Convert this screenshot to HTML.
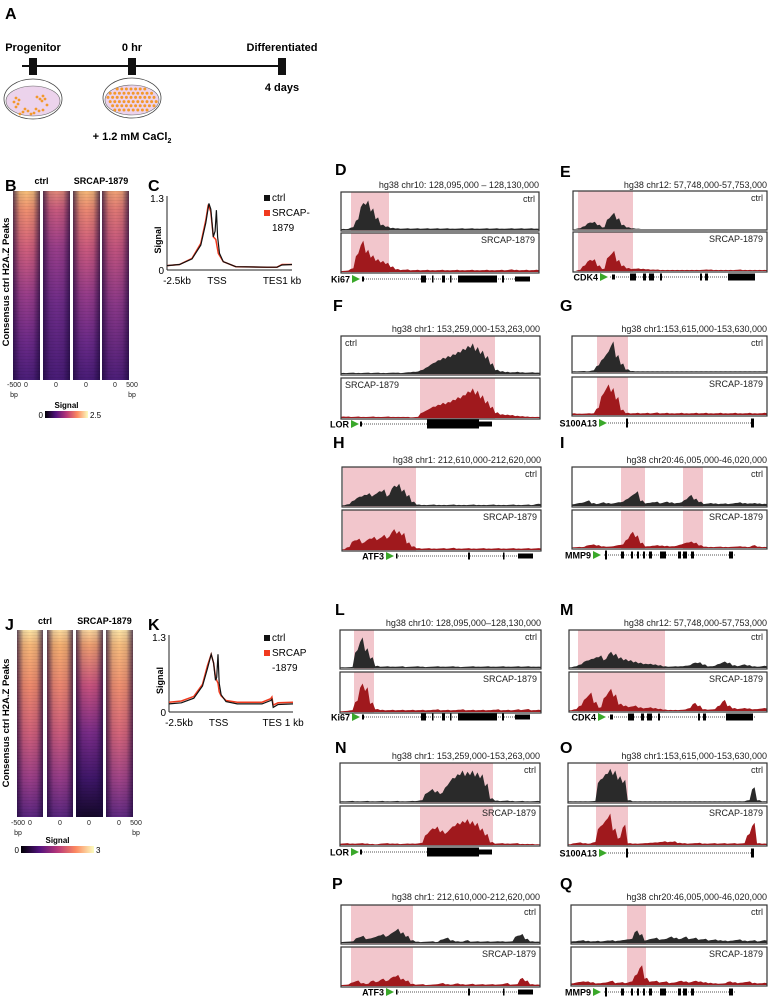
<!DOCTYPE html>
<html><head><meta charset="utf-8">
<style>
html,body{margin:0;padding:0;background:#fff;}
svg{display:block;font-family:"Liberation Sans",Arial,sans-serif;}
</style></head>
<body>
<svg id="fig" width="770" height="999" viewBox="0 0 770 999" xmlns="http://www.w3.org/2000/svg">
<defs id="defs"></defs>
</svg>
<script>
// ---------- Line chart data (C and K) ----------
const profileXC = [0,10,20,27,31,33.5,35,37,38.5,39.5,40.5,42,45,55,80,88,92,100];
const ctrlC     = [0.08,0.1,0.2,0.45,0.85,1.2,1.1,0.6,0.7,1.08,0.6,0.3,0.15,0.06,0.05,0.05,0.09,0.1];
const profileXC2= [0,10,20,27,31,33,35,37,39,41,45,55,80,88,92,100];
const srcapC    = [0.08,0.1,0.21,0.48,0.9,1.18,1.05,0.6,0.55,0.3,0.15,0.06,0.05,0.05,0.1,0.1];
const profileXK = [0,10,20,27,31,34,36,37.5,38.5,39.5,40.5,42,46,55,75,82,83,84,88,100];
const ctrlK     = [0.14,0.16,0.24,0.45,0.75,1.0,0.85,0.55,0.6,1.0,0.5,0.3,0.18,0.14,0.14,0.2,0.22,0.08,0.13,0.14];
const srcapK    = [0.17,0.19,0.27,0.48,0.8,1.0,0.85,0.6,0.55,0.5,0.35,0.28,0.2,0.17,0.17,0.23,0.26,0.12,0.16,0.17];
const yTicksProfile = [0,1.3];
const xTickLabelsC = ["-2.5kb","TSS","TES1 kb"];
const xTickLabelsK = ["-2.5kb","TSS","TES 1 kb"];

// ---------- Track coverage data (40 bins each) ----------
const D_ctrl=[0.03,0.03,0.08,0.3,0.75,0.82,0.6,0.35,0.15,0.1,0.06,0.05,0.04,0.05,0.04,0.05,0.04,0.05,0.04,0.05,0.04,0.05,0.04,0.04,0.05,0.04,0.05,0.04,0.04,0.05,0.04,0.05,0.04,0.04,0.05,0.04,0.05,0.04,0.05,0.04];
const D_src =[0.03,0.04,0.1,0.5,0.85,0.6,0.45,0.35,0.3,0.25,0.15,0.08,0.06,0.07,0.05,0.06,0.05,0.06,0.05,0.05,0.06,0.05,0.05,0.06,0.05,0.05,0.06,0.05,0.05,0.06,0.05,0.05,0.06,0.05,0.07,0.06,0.05,0.06,0.05,0.06];
const E_ctrl=[0,0.02,0.08,0.18,0.2,0.12,0.05,0.3,0.45,0.3,0.12,0.05,0.02,0.01,0,0,0,0,0,0,0,0,0,0,0,0,0,0,0,0,0,0,0,0,0,0,0,0,0,0];
const E_src =[0,0.03,0.15,0.3,0.32,0.15,0.06,0.4,0.55,0.3,0.15,0.08,0.06,0.07,0.06,0.05,0.04,0.04,0.03,0.03,0.03,0.03,0.03,0.03,0.03,0.03,0.03,0.04,0.04,0.03,0.03,0.03,0.03,0.03,0.04,0.03,0.03,0.03,0.03,0.03];
const F_ctrl=[0.03,0.03,0.04,0.03,0.03,0.04,0.03,0.04,0.03,0.03,0.04,0.04,0.03,0.05,0.06,0.07,0.12,0.2,0.3,0.38,0.45,0.5,0.55,0.62,0.7,0.78,0.85,0.75,0.65,0.5,0.3,0.12,0.08,0.06,0.05,0.06,0.05,0.04,0.05,0.04];
const F_src =[0.04,0.04,0.03,0.04,0.03,0.03,0.04,0.03,0.03,0.04,0.03,0.03,0.03,0.03,0.02,0.03,0.15,0.22,0.3,0.35,0.4,0.42,0.48,0.55,0.6,0.7,0.78,0.72,0.6,0.45,0.3,0.15,0.1,0.09,0.08,0.06,0.05,0.04,0.03,0.03];
const G_ctrl=[0.02,0.02,0.03,0.02,0.05,0.2,0.4,0.6,0.9,0.5,0.25,0.08,0.03,0.02,0.02,0.02,0.02,0.02,0.02,0.02,0.02,0.02,0.02,0.02,0.02,0.02,0.02,0.02,0.02,0.02,0.02,0.02,0.02,0.02,0.02,0.02,0.02,0.02,0.02,0.02];
const G_src =[0.05,0.04,0.04,0.05,0.05,0.2,0.6,0.85,0.75,0.5,0.15,0.06,0.05,0.06,0.05,0.06,0.05,0.07,0.05,0.06,0.05,0.05,0.06,0.05,0.05,0.06,0.05,0.06,0.05,0.05,0.06,0.05,0.05,0.06,0.05,0.05,0.06,0.05,0.05,0.06];
const H_ctrl=[0.02,0.05,0.15,0.25,0.3,0.35,0.3,0.4,0.45,0.3,0.55,0.6,0.45,0.3,0.12,0.04,0.03,0.03,0.04,0.03,0.03,0.03,0.04,0.03,0.03,0.03,0.04,0.03,0.03,0.03,0.04,0.03,0.03,0.03,0.04,0.03,0.03,0.04,0.03,0.06];
const H_src =[0.02,0.08,0.25,0.3,0.2,0.3,0.35,0.3,0.4,0.35,0.55,0.5,0.45,0.2,0.1,0.05,0.04,0.05,0.04,0.04,0.05,0.04,0.06,0.04,0.04,0.05,0.04,0.04,0.05,0.04,0.04,0.05,0.04,0.04,0.05,0.04,0.04,0.05,0.04,0.05];
const I_ctrl=[0.05,0.08,0.1,0.15,0.08,0.06,0.1,0.08,0.07,0.1,0.12,0.2,0.3,0.4,0.15,0.08,0.1,0.12,0.08,0.12,0.1,0.08,0.1,0.18,0.3,0.2,0.12,0.06,0.08,0.07,0.06,0.07,0.06,0.08,0.1,0.08,0.07,0.08,0.07,0.06];
const I_src =[0.02,0.03,0.03,0.08,0.1,0.08,0.05,0.04,0.05,0.08,0.1,0.25,0.45,0.35,0.15,0.05,0.06,0.08,0.07,0.06,0.05,0.06,0.1,0.15,0.18,0.15,0.08,0.04,0.03,0.03,0.04,0.03,0.03,0.04,0.05,0.04,0.03,0.08,0.04,0.03];
const L_ctrl=[0.02,0.02,0.03,0.5,0.85,0.55,0.3,0.06,0.04,0.05,0.04,0.04,0.05,0.03,0.04,0.05,0.04,0.03,0.04,0.05,0.04,0.04,0.05,0.04,0.03,0.04,0.05,0.04,0.04,0.05,0.04,0.04,0.05,0.04,0.04,0.05,0.04,0.05,0.04,0.04];
const L_src =[0.02,0.03,0.05,0.3,0.75,0.65,0.25,0.08,0.06,0.05,0.06,0.05,0.06,0.05,0.06,0.05,0.06,0.05,0.06,0.07,0.05,0.06,0.05,0.06,0.07,0.05,0.06,0.05,0.06,0.05,0.06,0.07,0.05,0.06,0.05,0.07,0.06,0.08,0.05,0.06];
const M_ctrl=[0.02,0.05,0.1,0.2,0.25,0.3,0.35,0.25,0.45,0.4,0.3,0.25,0.22,0.18,0.15,0.12,0.12,0.1,0.08,0.05,0.04,0.05,0.05,0.06,0.08,0.15,0.16,0.1,0.05,0.06,0.12,0.18,0.15,0.08,0.06,0.1,0.08,0.05,0.04,0.06];
const M_src =[0.02,0.05,0.15,0.35,0.5,0.25,0.1,0.4,0.6,0.45,0.2,0.15,0.12,0.15,0.1,0.08,0.1,0.08,0.06,0.04,0.03,0.03,0.03,0.04,0.08,0.22,0.15,0.05,0.04,0.05,0.15,0.3,0.15,0.08,0.06,0.08,0.07,0.05,0.06,0.08];
const N_ctrl=[0.02,0.02,0.03,0.02,0.02,0.03,0.02,0.02,0.03,0.02,0.02,0.03,0.02,0.02,0.03,0.03,0.05,0.25,0.35,0.3,0.25,0.45,0.65,0.75,0.85,0.82,0.85,0.8,0.75,0.5,0.1,0.04,0.03,0.04,0.03,0.02,0.03,0.02,0.02,0.03];
const N_src =[0.04,0.05,0.04,0.04,0.05,0.04,0.03,0.02,0.04,0.05,0.04,0.04,0.03,0.04,0.04,0.04,0.06,0.3,0.45,0.5,0.4,0.35,0.5,0.6,0.65,0.7,0.65,0.6,0.45,0.3,0.08,0.04,0.05,0.04,0.04,0.05,0.03,0.03,0.03,0.02];
const O_ctrl=[0.02,0.02,0.02,0.02,0.02,0.03,0.6,0.75,0.9,0.85,0.7,0.6,0.05,0.02,0.02,0.02,0.02,0.02,0.02,0.02,0.02,0.02,0.02,0.02,0.02,0.02,0.02,0.02,0.02,0.02,0.02,0.02,0.02,0.02,0.02,0.02,0.05,0.4,0.05,0.02];
const O_src =[0.02,0.05,0.07,0.05,0.04,0.08,0.5,0.65,0.85,0.45,0.2,0.55,0.05,0.04,0.04,0.05,0.06,0.07,0.08,0.1,0.09,0.1,0.06,0.05,0.04,0.05,0.06,0.04,0.04,0.05,0.04,0.05,0.04,0.05,0.04,0.05,0.3,0.6,0.05,0.04];
const P_ctrl=[0.03,0.04,0.05,0.15,0.2,0.12,0.15,0.2,0.25,0.2,0.3,0.4,0.3,0.2,0.08,0.04,0.03,0.04,0.05,0.03,0.1,0.15,0.08,0.05,0.04,0.08,0.04,0.05,0.04,0.05,0.04,0.05,0.05,0.04,0.05,0.2,0.25,0.12,0.05,0.04];
const P_src =[0.03,0.04,0.1,0.15,0.08,0.06,0.15,0.12,0.2,0.15,0.25,0.3,0.2,0.15,0.06,0.04,0.05,0.03,0.04,0.05,0.08,0.05,0.04,0.07,0.05,0.04,0.06,0.04,0.05,0.04,0.05,0.04,0.05,0.08,0.04,0.05,0.22,0.15,0.05,0.04];
const Q_ctrl=[0.05,0.06,0.08,0.06,0.05,0.06,0.05,0.07,0.08,0.06,0.08,0.1,0.12,0.35,0.25,0.08,0.12,0.15,0.1,0.12,0.18,0.15,0.12,0.18,0.12,0.15,0.1,0.12,0.08,0.1,0.08,0.07,0.06,0.08,0.1,0.07,0.06,0.08,0.05,0.08];
const Q_src =[0.05,0.08,0.1,0.1,0.08,0.05,0.06,0.08,0.12,0.06,0.08,0.06,0.1,0.3,0.55,0.2,0.1,0.12,0.08,0.1,0.06,0.08,0.12,0.1,0.08,0.12,0.1,0.08,0.06,0.05,0.04,0.05,0.1,0.08,0.06,0.08,0.1,0.06,0.05,0.06];

const NS="http://www.w3.org/2000/svg";
const svg=document.getElementById('fig');
const defs=document.getElementById('defs');
function mk(tag,attrs,parent){const e=document.createElementNS(NS,tag);for(const k in attrs)e.setAttribute(k,attrs[k]);(parent||svg).appendChild(e);return e;}
function txt(x,y,s,size,opts,parent){const t=mk('text',Object.assign({x:x,y:y,'font-size':size},opts||{}),parent);t.textContent=s;return t;}

// ---------- Panel letters ----------
const letters=[["A",5,19],["B",5,191],["C",148,191],["D",335,175],["E",560,177],["F",333,311],["G",560,311],["H",333,448],["I",560,448],["J",5,630],["K",148,630],["L",335,615],["M",560,615],["N",335,753],["O",560,753],["P",332,889],["Q",560,889]];
letters.forEach(l=>{const t=txt(l[1],l[2],l[0],16,{'font-weight':'bold'});

});

// ---------- Panel A: timeline ----------
const gA=mk('g',{});


mk('line',{x1:22,y1:66,x2:283,y2:66,stroke:'#111','stroke-width':2},gA);
[[33,"Progenitor"],[132,"0 hr"],[282,"Differentiated"]].forEach(m=>{
  const r=mk('rect',{x:m[0]-4,y:58,width:8,height:17,fill:'#111'},gA);
  
  
  const t=txt(m[0],51,m[1],11,{'font-weight':'bold','text-anchor':'middle'},gA);
  
  
});
const t4=txt(282,91,"4 days",11,{'font-weight':'bold','text-anchor':'middle'},gA);


function dish(cx,cy,full,name){
  const g=mk('g',{},gA);
  
  
  mk('ellipse',{cx:cx,cy:cy+2,rx:29,ry:20,fill:'#fff',stroke:'#444','stroke-width':0.8},g);
  mk('ellipse',{cx:cx,cy:cy+4,rx:27,ry:15,fill:'#ecd3ec',stroke:'#666','stroke-width':0.6},g);
  if(full){for(let i=0;i<11;i++)for(let j=0;j<6;j++){const x=cx-24+i*4.6+(j%2)*2.2,y=cy-7+j*4.2;
    if(((x-cx)/26)**2+((y-cy-4)/14)**2<1) mk('circle',{cx:x,cy:y,r:1.5,fill:'#f3982c'},g);}}
  else{const pts=[[-17,-3],[-14,-1],[-19,1],[-15,3],[-8,8],[-5,10],[-10,11],[-13,13],[4,-4],[7,-2],[10,-5],[12,-2],[9,-0],[14,4],[3,8],[6,10],[1,12],[-2,13],[10,9],[-17,6]];
    pts.forEach(p=>mk('circle',{cx:cx+p[0],cy:cy+4+p[1],r:1.4,fill:'#f3982c'},g));}
}
dish(33,97,false,'progenitor-dish');
dish(132,96,true,'differentiating-dish');
const ca=txt(132,140,"+ 1.2 mM CaCl",11,{'font-weight':'bold','text-anchor':'middle'},gA);


const sub=mk('tspan',{'font-size':7,dy:3},ca);sub.textContent="2";

// ---------- Heatmaps ----------
function grad(id,stops,vertical){
  const g=mk('linearGradient',{id:id,x1:0,y1:0,x2:vertical?0:1,y2:vertical?1:0},defs);
  stops.forEach(s=>mk('stop',{offset:s[0],'stop-color':s[1],'stop-opacity':s[2]===undefined?1:s[2]},g));
}
grad('edge',[[0,'#1a0838',0.7],[0.25,'#1a0838',0.1],[0.5,'#1a0838',0],[0.75,'#1a0838',0.1],[1,'#1a0838',0.7]],false);
grad('hB1',[[0,'#f7c07a'],[0.1,'#f09070'],[0.3,'#d2607c'],[0.55,'#9a3e8a'],[0.8,'#6c2a88'],[1,'#4a1e78']],true);
grad('hB2',[[0,'#e08878'],[0.1,'#c85a7e'],[0.3,'#9a3e8a'],[0.6,'#6e2c88'],[1,'#481c76']],true);
grad('hB3',[[0,'#f5b878'],[0.1,'#ec8872'],[0.3,'#cc5a7e'],[0.55,'#963c8a'],[0.8,'#6a2a88'],[1,'#481c76']],true);
grad('hB4',[[0,'#f0a276'],[0.1,'#e07874'],[0.3,'#c2547e'],[0.6,'#8a3888'],[1,'#4c1e78']],true);
grad('hJ1',[[0,'#fde5a6'],[0.08,'#f8b878'],[0.3,'#ef8a6c'],[0.55,'#d0607a'],[0.8,'#9a3e88'],[1,'#5a2680']],true);
grad('hJ2',[[0,'#fcdca0'],[0.08,'#f6b070'],[0.3,'#ec8670'],[0.55,'#cc5c7c'],[0.8,'#953c88'],[1,'#58267e']],true);
grad('hJ3',[[0,'#fbd8a0'],[0.08,'#f0a070'],[0.3,'#c8527e'],[0.55,'#7a2c88'],[0.8,'#3e1668'],[1,'#140828']],true);
grad('hJ4',[[0,'#fde5a8'],[0.08,'#f8be7e'],[0.3,'#f09070'],[0.55,'#d6667a'],[0.8,'#a04488'],[1,'#602a82']],true);
grad('cbar',[[0,'#000004'],[0.25,'#51127c'],[0.5,'#b73779'],[0.75,'#fc8961'],[1,'#fcfdbf']],false);
const stripe=mk('pattern',{id:'streak',width:4,height:3,patternUnits:'userSpaceOnUse'},defs);
mk('rect',{x:0,y:2,width:4,height:1,fill:'#000','fill-opacity':0.06},stripe);

function heatmap(cols,y0,y1,grads,name){
  const g=mk('g',{});
  
  
  cols.forEach((c,i)=>{
    const r=mk('rect',{x:c[0],y:y0,width:c[1]-c[0],height:y1-y0,fill:'url(#'+grads[i]+')'},g);
    
    
    mk('rect',{x:c[0],y:y0,width:c[1]-c[0],height:y1-y0,fill:'url(#edge)'},g);
    mk('rect',{x:c[0],y:y0,width:c[1]-c[0],height:y1-y0,fill:'url(#streak)'},g);
  });
  return g;
}
function heatAnnot(cols,y0,y1,hy,tickY,cbY,cbX0,cbX1,maxLab,yl){
  const h1=txt((cols[0][0]+cols[1][1])/2,hy,"ctrl",9,{'font-weight':'bold','text-anchor':'middle'});
  
  const h2=txt((cols[2][0]+cols[3][1])/2,hy,"SRCAP-1879",9,{'font-weight':'bold','text-anchor':'middle'});
  
  const lab=txt(yl[0],yl[1],"Consensus ctrl H2A.Z Peaks",9.5,{'font-weight':'bold','text-anchor':'middle',transform:'rotate(-90 '+yl[0]+' '+yl[1]+')'});
  
  const tl=[["-500",cols[0][0]+1],["0",cols[0][0]+13],["0",cols[1][0]+13],["0",cols[2][0]+13],["0",cols[3][0]+13],["500",cols[3][1]+3]];
  tl.forEach(t=>{const e=txt(t[1],tickY,t[0],7,{'text-anchor':'middle',fill:'#222'});
    });
  [cols[0][0]+1,cols[3][1]+3].forEach(x=>{const e=txt(x,tickY+10,"bp",7,{'text-anchor':'middle',fill:'#222'});
    });
  const s=txt((cbX0+cbX1)/2,cbY-3,"Signal",8,{'font-weight':'bold','text-anchor':'middle'});
  
  const cb=mk('rect',{x:cbX0,y:cbY,width:cbX1-cbX0,height:7,fill:'url(#cbar)'});
  
  const a=txt(cbX0-2,cbY+7,"0",8,{'text-anchor':'end'});
  const b=txt(cbX1+2,cbY+7,maxLab,8,{});
}
const colsB=[[13,40],[43,70],[73,100],[102,129]];
heatmap(colsB,191,380,['hB1','hB2','hB3','hB4'],'heatmap-b');
heatAnnot(colsB,191,380,184,387,411,45,88,"2.5",[9,282]);
const colsJ=[[17,43],[47,73],[76,103],[106,133]];
heatmap(colsJ,630,817,['hJ1','hJ2','hJ3','hJ4'],'heatmap-j');
heatAnnot(colsJ,630,817,624,825,846,21,94,"3",[9,723]);

// ---------- Profile plots ----------
function profile(ax,xsA,ctrl,xsB,src,xlabels,name,legendSplit){
  const g=mk('g',{});
  
  
  const sx=v=>ax.x0+(v/100)*(ax.x1-ax.x0);
  const sy=v=>ax.y0-(v/1.3)*(ax.y0-ax.yTop);
  const yaxis=mk('line',{x1:ax.x0,y1:ax.yTop-2,x2:ax.x0,y2:ax.y0,stroke:'#222','stroke-width':1},g);
  
  const xaxis=mk('line',{x1:ax.x0,y1:ax.y0,x2:ax.x1,y2:ax.y0,stroke:'#222','stroke-width':1},g);
  
  yTicksProfile.forEach(v=>{const t=txt(ax.x0-3,sy(v)+4,String(v),10,{'text-anchor':'end'},g);
    });
  const yt=txt(ax.x0-6,(ax.y0+ax.yTop)/2+6,"Signal",9,{'font-weight':'bold','text-anchor':'middle',transform:'rotate(-90 '+(ax.x0-6)+' '+((ax.y0+ax.yTop)/2+6)+')'},g);
  
  const xpos=[0,40,92];
  xlabels.forEach((l,i)=>{const t=txt(sx(xpos[i])+(i==0?10:0),ax.y0+14,l,10,{'text-anchor':'middle'},g);
    });
  const path=(xs,vs)=>xs.map((x,i)=>(i?'L':'M')+sx(x).toFixed(1)+','+sy(vs[i]).toFixed(1)).join(' ');
  const ps=mk('path',{d:path(xsB,src),fill:'none',stroke:'#f03a1e','stroke-width':1.5},g);
  
  const pc=mk('path',{d:path(xsA,ctrl),fill:'none',stroke:'#111','stroke-width':1.2},g);
  
  const lx=ax.legX,ly=ax.legY;
  const l1=mk('rect',{x:lx,y:ly-6,width:6,height:6,fill:'#111'},g);
  
  const lt1=txt(lx+8,ly,"ctrl",10,{},g);
  const l2=mk('rect',{x:lx,y:ly+9,width:6,height:6,fill:'#f03a1e'},g);
  
  const lt2=txt(lx+8,ly+15,legendSplit[0],10,{},g);
  const lt3=txt(lx+8,ly+30,legendSplit[1],10,{},g);
}
profile({x0:167,x1:292,y0:270,yTop:198,legX:264,legY:201},profileXC,ctrlC,profileXC2,srcapC,xTickLabelsC,'profile-plot-c',["SRCAP-","1879"]);
profile({x0:169,x1:293,y0:712,yTop:637,legX:264,legY:641},profileXK,ctrlK,profileXK,srcapK,xTickLabelsK,'profile-plot-k',["SRCAP","-1879"]);

// ---------- Genome tracks ----------
function track(x0,x1,y0,y1,vals,color,label,left,pinks,name){
  const g=mk('g',{});
  
  
  pinks.forEach(p=>{const r=mk('rect',{x:p[0],y:y0,width:p[1]-p[0],height:y1-y0,fill:'#f2c6cc'},g);
    });
  const n=vals.length,w=(x1-x0)/n,h=y1-y0-3;
  let d='M'+x0+','+(y1-1);
  vals.forEach((v,i)=>{const xa=x0+i*w,xm=xa+w/2,yy=y1-1-v*h;
    d+=' L'+xa.toFixed(1)+','+(y1-1-v*h*0.85).toFixed(1)+' L'+xm.toFixed(1)+','+yy.toFixed(1);});
  d+=' L'+x1+','+(y1-1-vals[n-1]*h*0.85).toFixed(1)+' L'+x1+','+(y1-1)+' Z';
  const a=mk('path',{d:d,fill:color},g);
  
  const b=mk('rect',{x:x0,y:y0,width:x1-x0,height:y1-y0,fill:'none',stroke:'#333','stroke-width':1.2},g);
  
  const t=txt(left?x0+4:x1-4,y0+10,label,9,{'text-anchor':left?'start':'end',fill:'#222'},g);
  
}
function gene(name,nx0,tri,lx0,lx1,y,exons,pname){
  const g=mk('g',{});
  
  
  const t=txt(tri-2,y+3.5,name,9,{'font-weight':'bold','text-anchor':'end'},g);
  
  const tr=mk('path',{d:'M'+tri+','+(y-4)+' L'+(tri+8)+','+y+' L'+tri+','+(y+4)+' Z',fill:'#3aa82a'},g);
  
  mk('line',{x1:lx0,y1:y,x2:lx1,y2:y,stroke:'#555','stroke-width':1,'stroke-dasharray':'1 1'},g);
  exons.forEach(e=>{const hh=e[2]||7;const r=mk('rect',{x:e[0],y:y-hh/2,width:Math.max(1.5,e[1]-e[0]),height:hh,fill:'#000'},g);
    });
}
function panel(p){
  const t=txt(p.x1,p.ty,p.title,9,{'text-anchor':'end',fill:'#222'});
  
  track(p.x0,p.x1,p.c[0],p.c[1],p.cv,'#2a2a2a','ctrl',p.left,p.pink,'ctrl-track-'+p.id);
  track(p.x0,p.x1,p.s[0],p.s[1],p.sv,'#a0191d','SRCAP-1879',p.left,p.pink,'srcap-track-'+p.id);
  gene(p.g[0],0,p.g[1],p.g[2],p.g[3],p.g[4],p.g[5],'gene-model-'+p.id);
}
const ki67Ex=[[362,364,5],[421,426],[432,433],[442,445],[450,451],[458,497],[502,504],[515,530,5]];
const cdk4Ex=[[612,615,5],[630,636],[643,646],[649,654],[660,662],[700,702],[705,708],[728,755]];
const lorEx=[[360,362,5],[427,479,9],[479,492,5]];
const s100Ex=[[626,628,9],[751,754,9]];
const atfEx=[[396,397.5,5],[468,470],[503,504],[518,533,5]];
const mmpEx=[[605,607,9],[621,624],[631,633],[637,639],[643,645],[649,652],[660,666],[678,681],[683,687],[691,694],[729,733]];
const sh=(ex,dx)=>ex.map(e=>[e[0]+dx,e[1]+dx,e[2]]);
panel({id:'d',x0:341,x1:539,ty:188,title:"hg38 chr10: 128,095,000 – 128,130,000",c:[192,231],s:[233,273],cv:D_ctrl,sv:D_src,pink:[[351,389]],g:["Ki67",352,362,530,279,ki67Ex]});
panel({id:'e',x0:573,x1:767,ty:188,title:"hg38 chr12: 57,748,000-57,753,000",c:[191,230],s:[232,272],cv:E_ctrl,sv:E_src,pink:[[578,633]],g:["CDK4",600,610,755,277,cdk4Ex]});
panel({id:'f',x0:341,x1:540,ty:332,title:"hg38 chr1: 153,259,000-153,263,000",c:[336,375],s:[378,419],cv:F_ctrl,sv:F_src,pink:[[420,495]],left:true,g:["LOR",351,360,492,424,lorEx]});
panel({id:'g',x0:572,x1:767,ty:332,title:"hg38 chr1:153,615,000-153,630,000",c:[336,373],s:[377,416],cv:G_ctrl,sv:G_src,pink:[[597,628]],g:["S100A13",599,608,754,423,s100Ex]});
panel({id:'h',x0:342,x1:541,ty:463,title:"hg38 chr1: 212,610,000-212,620,000",c:[467,507],s:[510,551],cv:H_ctrl,sv:H_src,pink:[[343,416]],g:["ATF3",386,396,534,556,atfEx]});
panel({id:'i',x0:572,x1:767,ty:463,title:"hg38 chr20:46,005,000-46,020,000",c:[467,507],s:[510,549],cv:I_ctrl,sv:I_src,pink:[[621,645],[683,703]],g:["MMP9",593,604,735,555,mmpEx]});
panel({id:'l',x0:340,x1:541,ty:626,title:"hg38 chr10: 128,095,000–128,130,000",c:[630,669],s:[672,713],cv:L_ctrl,sv:L_src,pink:[[354,374]],g:["Ki67",352,362,530,717,sh(ki67Ex,0)]});
panel({id:'m',x0:569,x1:767,ty:626,title:"hg38 chr12: 57,748,000-57,753,000",c:[630,669],s:[672,712],cv:M_ctrl,sv:M_src,pink:[[578,665]],g:["CDK4",598,608,755,717,sh(cdk4Ex,-2)]});
panel({id:'n',x0:340,x1:540,ty:759,title:"hg38 chr1: 153,259,000-153,263,000",c:[763,803],s:[806,846],cv:N_ctrl,sv:N_src,pink:[[420,493]],g:["LOR",351,360,492,852,lorEx]});
panel({id:'o',x0:568,x1:767,ty:759,title:"hg38 chr1:153,615,000-153,630,000",c:[763,803],s:[806,846],cv:O_ctrl,sv:O_src,pink:[[596,628]],g:["S100A13",599,608,754,853,s100Ex]});
panel({id:'p',x0:341,x1:540,ty:900,title:"hg38 chr1: 212,610,000-212,620,000",c:[905,944],s:[947,987],cv:P_ctrl,sv:P_src,pink:[[351,413]],g:["ATF3",386,396,534,992,atfEx]});
panel({id:'q',x0:571,x1:767,ty:900,title:"hg38 chr20:46,005,000-46,020,000",c:[905,944],s:[947,986],cv:Q_ctrl,sv:Q_src,pink:[[627,646]],g:["MMP9",593,604,735,992,mmpEx]});
</script>
</body></html>
